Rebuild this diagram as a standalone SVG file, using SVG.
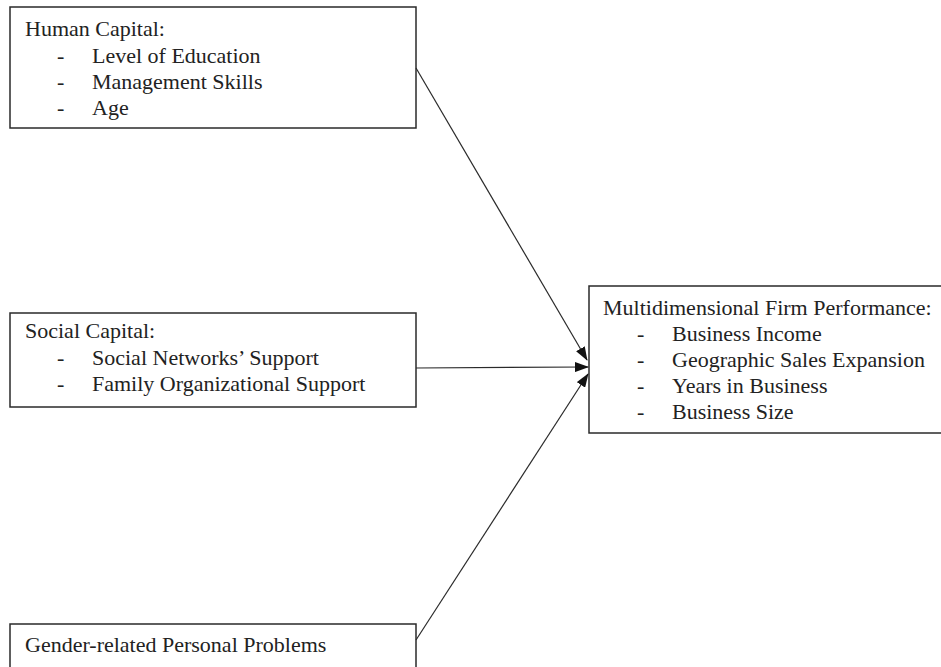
<svg xmlns="http://www.w3.org/2000/svg" width="941" height="667" viewBox="0 0 941 667">
<style>
.box{fill:#fff;stroke:#2a2a2a;stroke-width:1.5}
.t{font-family:"Liberation Serif","Times New Roman",serif;font-size:22px;fill:#222}
.c{stroke:#2a2a2a;stroke-width:1.2;fill:none}
</style>
<defs>
<marker id="ah" markerWidth="14" markerHeight="10" refX="13" refY="5" orient="auto" markerUnits="userSpaceOnUse">
<path d="M0,0 L14,5 L0,10 Z" fill="#111"/>
</marker>
</defs>
<rect width="941" height="667" fill="#fff"/>
<g id="human-capital">
<rect class="box" x="10" y="7" width="406" height="121"/>
<text class="t" x="25" y="36">Human Capital:</text>
<text class="t" x="57" y="63">-</text><text class="t" x="92" y="63">Level of Education</text>
<text class="t" x="57" y="89">-</text><text class="t" x="92" y="89">Management Skills</text>
<text class="t" x="57" y="115">-</text><text class="t" x="92" y="115">Age</text>
</g>
<g id="social-capital">
<rect class="box" x="10" y="313" width="406" height="94"/>
<text class="t" x="25" y="338">Social Capital:</text>
<text class="t" x="57" y="365">-</text><text class="t" x="92" y="365">Social Networks’ Support</text>
<text class="t" x="57" y="391">-</text><text class="t" x="92" y="391">Family Organizational Support</text>
</g>
<g id="gender">
<rect class="box" x="10" y="624" width="406" height="60"/>
<text class="t" x="25" y="652">Gender-related Personal Problems</text>
</g>
<g id="performance">
<rect class="box" x="589" y="286" width="370" height="147"/>
<text class="t" x="603" y="315">Multidimensional Firm Performance:</text>
<text class="t" x="637" y="341">-</text><text class="t" x="672" y="341">Business Income</text>
<text class="t" x="637" y="367">-</text><text class="t" x="672" y="367">Geographic Sales Expansion</text>
<text class="t" x="637" y="393">-</text><text class="t" x="672" y="393">Years in Business</text>
<text class="t" x="637" y="419">-</text><text class="t" x="672" y="419">Business Size</text>
</g>
<g id="connectors">
<line class="c" x1="416" y1="68" x2="587" y2="360" marker-end="url(#ah)"/>
<line class="c" x1="416" y1="368" x2="588" y2="367" marker-end="url(#ah)"/>
<line class="c" x1="416" y1="640" x2="588" y2="374" marker-end="url(#ah)"/>
</g>
</svg>
